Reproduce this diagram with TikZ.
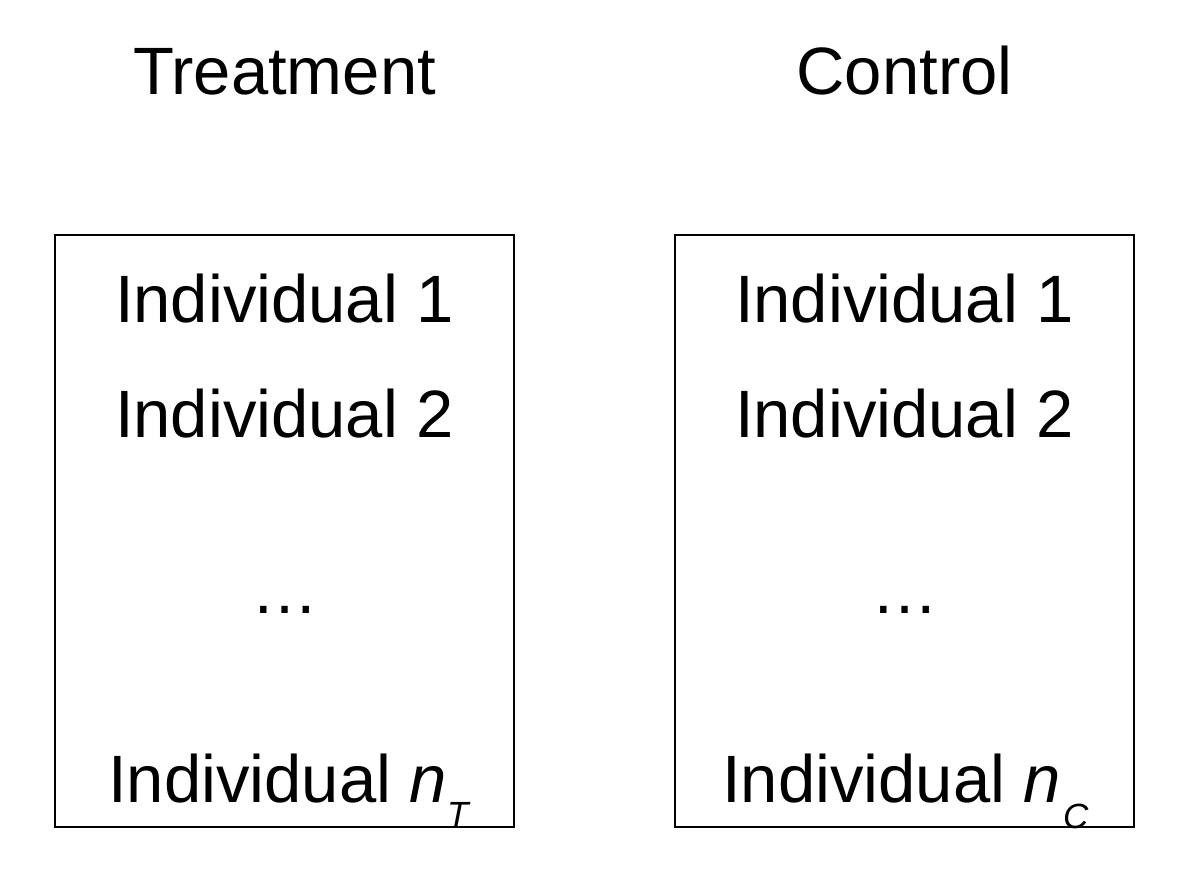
\documentclass[tikz,border=0pt]{standalone}
\usepackage{fontspec}
\setmainfont{Liberation Sans}
\begin{document}
\begin{tikzpicture}[x=1pt,y=-1pt,
  grp/.style={draw=black,line width=2pt,fill=none},
  bigtxt/.style={anchor=base,inner sep=0pt,font=\fontsize{67}{80}\selectfont},
  lasttxt/.style={anchor=base west,inner sep=0pt,font=\fontsize{67}{80}\selectfont},
  titletxt/.style={anchor=base,inner sep=0pt,font=\fontsize{67}{80}\selectfont}]
\useasboundingbox (0,0) rectangle (1203,877);
\fill[white] (0,0) rectangle (1203,877);
% boxes
\draw[grp] (55,235) rectangle (514,827);
\draw[grp] (675,235) rectangle (1134,827);
% titles
\node[titletxt] (ttitle) at (284.5,95) {Treatment};
\node[titletxt] (ctitle) at (904.5,95) {Control};
% treatment entries
\node[bigtxt] (t1) at (284.5,323) {Individual 1};
\node[bigtxt] (t2) at (284.5,438) {Individual 2};
\node[bigtxt] (tdots) at (284.5,613) {…};
\node[lasttxt] (tn) at (108,802) {Individual \textit{n}\hspace{0pt}\raisebox{-24pt}{\fontsize{35}{40}\selectfont\textit{T}}};
% control entries
\node[bigtxt] (c1) at (904.5,323) {Individual 1};
\node[bigtxt] (c2) at (904.5,438) {Individual 2};
\node[bigtxt] (cdots) at (904.5,613) {…};
\node[lasttxt] (cn) at (722,802) {Individual \textit{n}\hspace{2pt}\raisebox{-26pt}{\fontsize{35}{40}\selectfont\textit{C}}};
\end{tikzpicture}
\end{document}
